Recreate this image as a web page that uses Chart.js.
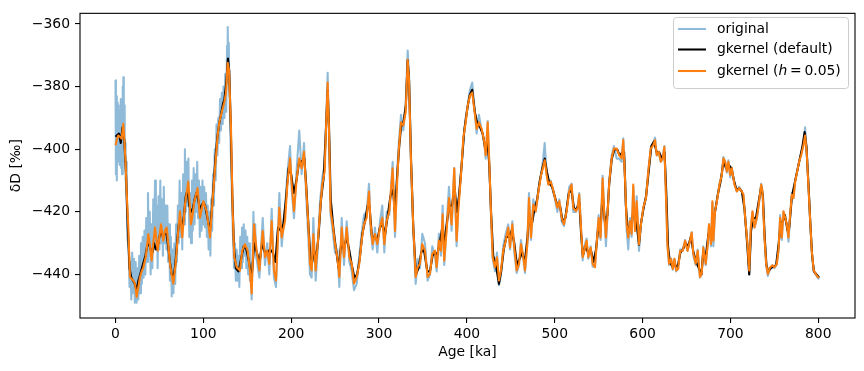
<!DOCTYPE html>
<html>
<head>
<meta charset="utf-8">
<script src="https://cdn.jsdelivr.net/npm/chart.js@4.4.0/dist/chart.umd.min.js"></script>
<style>
  html, body { margin: 0; padding: 0; background: #fff; }
  #wrap { width: 864px; height: 371px; }
</style>
</head>
<body>
<div id="wrap"><canvas id="deltaChart" width="864" height="371"></canvas></div>
<script>
// Age [ka] of the smoothed curves, gkernel (h = 0.05)
const ageKernel = [
  0,1.5,3.2,5,7,8.9,10.3,11.6,12.7,14.6,
  16.5,18.5,20.3,22.2,24.1,26,27.9,29.8,31.7,34.4,
  37.4,39.3,41.2,43,45,48,50,51.8,54.4,56.3,
  58.3,60,62,63.9,65.8,68.5,70.8,73.4,76,79.1,
  82.9,85.9,87.8,89.7,93.5,96.2,99.9,103.8,107.6,110.2,
  113.3,116.3,118.2,120.9,123.9,125.8,127.7,129.2,131.5,133.4,
  135.2,138,141.7,144.3,147.4,150.4,153,155,157.7,160.7,
  163.8,167.6,170.2,172.8,175.1,177.8,180.4,182.7,186.5,189.2,
  193,195.6,198.7,200.6,203.2,206.3,209.2,211.9,214.6,216.8,
  219.5,221.4,223.3,225.2,227.9,230.2,232.8,235.4,238.1,239.9,
  241.5,243,244.9,247.2,249.9,252.5,254.8,257.5,260.1,263.2,
  266.2,268.9,271.5,274.6,277.5,280.2,282.9,285.9,288.6,290.5,
  292.8,295.4,298,301.1,303.7,306,308.7,311.7,315.5,318.2,
  320.8,322.5,325,327.6,330.3,332.6,334.1,336.4,339,341.7,
  344,346.6,349.2,352.3,355.3,358,360.6,363.7,365.6,368.2,
  370.5,372.4,374.2,376.9,379.6,382.6,385.6,388.3,390.2,393.3,
  395.9,398.6,400.9,403.5,406.1,408.4,411.1,413.7,416.8,419.8,
  421.4,423.7,425.5,427.4,429.4,432,434.3,436.5,438.8,441.4,
  444.2,447.1,449.1,451.7,454,456.7,459.3,461.6,464.3,466.1,
  468.8,470.7,473,475.6,478.4,481.4,484.5,486.5,488.6,490.8,
  492.7,495.4,497.7,500.3,503,505.2,507.9,510.5,513.5,516.5,
  519.2,521.1,524.2,526.1,527.9,529.9,531.8,533.6,536.3,538.2,
  540.9,543.2,545.8,547.7,550,552.2,554.5,556.4,558.3,560.3,
  562.1,564.8,567.4,570.5,573.4,576.2,578,580,581.9,583.7,
  585.7,587.6,589.4,591.4,593.3,595.9,598.2,600.8,603.9,606.5,
  609.3,612.2,614.2,616.1,618.4,620.7,622.9,624.8,626.7,628.3,
  630.2,632.5,634.4,636.3,638.2,640.5,642.8,645.8,648.4,651.2,
  654,655.9,657.8,660.5,662.7,665.3,667.3,669.1,671.9,674.2,
  675.6,677.9,679.5,680.6,682.5,685.2,687.5,690.2,692,694,
  695.9,697.7,699.7,701.6,704.6,707.3,710,713,714.8,716.8,
  719.4,721.4,723.2,725.1,727.4,730.1,732.7,735,736.5,738.8,
  740.7,742.6,745.2,747.9,750.1,752.8,754.7,756.6,758.5,760.4,
  762.3,764.2,766.1,768,769.9,771.8,773.7,776,778.2,780.5,
  783.1,785,786.8,788.7,790.6,792.6,794.8,797.1,799.3,801
];
const gkernelH = [
  -398.7,-397,-395.6,-396,-396.6,-391.9,-398,-405,-413.5,-425,
  -440.8,-441.5,-441.9,-443,-447.2,-444,-440.8,-439,-437.7,-434.5,
  -427.1,-431,-435.6,-430,-425,-432.4,-428,-424,-429.2,-426,
  -425,-430,-436.6,-440,-442.9,-436.6,-428.2,-419.8,-428.2,-417.7,
  -410.3,-424,-421,-416.6,-412.4,-421.9,-416.6,-419.8,-428.2,-417.7,
  -406.1,-395.6,-391.4,-388.2,-385,-381.9,-372.4,-374.5,-393.5,-419.8,
  -434.5,-437.7,-438.7,-432.4,-430.3,-432.4,-438.7,-446.1,-424,-432.4,
  -438.7,-426.1,-434.5,-432.4,-436.6,-422.9,-438.7,-441.9,-418.7,-428.2,
  -422.9,-411.3,-402.9,-411.3,-419.8,-409.3,-402.9,-406.1,-400.8,-411.3,
  -424,-436.6,-438.7,-427.1,-438.7,-430.3,-419.8,-411.3,-407.1,-391.4,
  -378.7,-393.5,-419.8,-424,-430.3,-434.5,-440.8,-425,-434.5,-425,
  -434.5,-436.6,-442.9,-440.8,-436.6,-429.2,-424,-421.9,-413.5,-424,
  -430.3,-427.1,-430.3,-425,-421.9,-430.3,-422.9,-419.8,-406.1,-426.1,
  -409.3,-400,-391.4,-392.4,-388.2,-371.4,-377.7,-404,-425,-440.8,
  -437.7,-436.6,-430.3,-432.4,-440.8,-439.8,-433.4,-432.4,-437.7,-429.2,
  -432.4,-420.8,-435.6,-426.1,-415.6,-424,-406.1,-429.2,-419.8,-408.2,
  -396.6,-391.4,-386.1,-382.9,-381.9,-387.2,-393.5,-391.4,-393.5,-397.7,
  -401.9,-391.4,-404,-419.8,-434.5,-437.7,-434.5,-441.9,-438.7,-432.4,
  -429.2,-425,-431.4,-424,-431.4,-438.7,-436.6,-430.3,-434.5,-438.7,
  -430.3,-415.6,-428.2,-417.7,-419.8,-413.5,-408.2,-406,-403.5,-408.2,
  -411.3,-410.3,-412.4,-415.6,-418.7,-416.6,-421.9,-424,-419.8,-413.5,
  -411.3,-418.7,-419.8,-418.7,-414.5,-425,-434.5,-432.4,-429.2,-434.5,
  -431.4,-436.6,-437.7,-430.3,-421.9,-428.2,-409.3,-420.8,-428.2,-419.8,
  -410.3,-402.9,-399.8,-399.8,-401.9,-402.9,-397.1,-409.3,-424,-428.2,
  -422.9,-427.1,-411.3,-426.1,-416.6,-430.3,-424,-418.7,-415.6,-407.1,
  -399.8,-398.7,-397.1,-401.9,-400.8,-404,-402.9,-399.2,-415.6,-430.3,
  -436.6,-435,-438.2,-435,-438.7,-438.2,-432.4,-432.4,-429.2,-432.4,
  -429.2,-426.6,-433.4,-436.6,-432.4,-440.8,-439.8,-431.4,-436.6,-430.3,
  -424,-430.3,-416.6,-429.2,-419.8,-415.6,-411.3,-408.2,-402.9,-404,
  -407.1,-404,-408.2,-406.1,-411.3,-413.5,-412.4,-413.5,-414.5,-421.9,
  -430.3,-438.7,-425,-419.8,-425,-421.9,-416.6,-411.3,-413.5,-428.2,
  -436.6,-439.8,-437.7,-437.1,-437.7,-436.6,-432.4,-421.9,-428.2,-419.8,
  -421.9,-424,-428.2,-420.8,-414.5,-415.6,-410.3,-407.1,-404,-401.9,
  -398.7,-395.6,-400.8,-411.3,-421.9,-432.4,-438.7,-439.8,-440.8,-441
];

// gkernel (default), a bit smoother
const ageDefault = [
  0,2,4,6,8,10,12,14,16,18,20,22,24,26,28,30,32,34,36,38,
  40,42,44,46,48,50,52,54,56,58,60,62,64,66,68,70,72,74,76,78,
  80,82,84,86,88,90,92,94,96,98,100,102,104,106,108,110,112,114,116,118,
  120,122,124,126,128,129.5,131,133,135,137,140,143,146,149,152,155,158,161,164,167,
  170,173,176,179,182,185,188,191,194,197,200,203,206,209,212,215,217,220,222,224,
  226,228,231,234,237,239.5,241.5,243,245,248,251,254,257,260,263,266,269,272,275,278,
  281,284,287,289,292,295,298,301,304,307,310,313,316,318,321,323,325,328,330.5,332.6,
  334.2,336.4,339,342,345,348,351,355,358,361,364,366,369,372,374,377,380,383,386,388.5,
  391,394,397,400,403,406,409,412,415,418,421,423.5,425.5,427.5,430,433,436.5,439,442,445,
  448,451,454,457,460,463,466,469,471,474,477,480,483,486,488.6,491,494,497,500,503,
  506,509,512,516,519,522,525,528,530,532,535,538,541,544,547,550,552,554.5,557,560,
  562,565,568,571,574,577,579,581,583.5,586,588,590,592.5,595.9,598,601,604,607,610,613,
  616,619,622,625,627,629,631,634,637,640,643,646,649,652,655,658,661,664,667,669,
  672,675,678,680,683,686,689,692,695,698,701,704,707,710,713,716,719,721.4,723.5,726,
  729,732,735,737,739,741,743,746,749,752,755,757,759.5,762,765,767,770,773,776,779,
  782,784.5,786.5,789,791,793,795,798,801
];
const gkernelDefault = [
  -396,-395.5,-395,-398,-393,-397,-408,-425,-438,-441,-442,-443,-445,-442,-440,-438,-436,-434,-431,-430,
  -432,-433,-430,-432,-431,-428,-426,-428,-427,-427,-431,-436,-440,-441,-437,-430,-424,-423,-425,-421,
  -415,-413,-418,-420,-419,-416,-414,-416,-419,-418,-417,-418,-421,-424,-425,-418,-410,-402,-396,-392,
  -389,-386,-384,-379,-371,-375,-390,-415,-432,-438,-439,-435,-431,-432,-436,-441,-430,-433,-436,-430,
  -433,-433,-432,-433,-436,-425,-426,-424,-416,-406,-408,-414,-410,-404,-404,-403,-411,-426,-435,-436,
  -432,-436,-428,-416,-409,-394,-381,-392,-416,-425,-432,-438,-430,-432,-428,-432,-437,-441,-440,-435,
  -427,-423,-418,-418,-428,-428,-429,-425,-424,-427,-421,-415,-413,-420,-407,-399,-393,-391,-386,-371.5,
  -378,-403,-425,-440,-438,-433,-432,-439,-439,-434,-433,-434,-430,-425,-430,-424,-418,-418,-412,-420,
  -415,-405,-394,-388,-383,-381,-388,-392,-393,-395,-400,-398,-405,-420,-434,-437,-443,-439,-432,-428,
  -428,-426,-430,-437,-435,-433,-436,-428,-421,-424,-419,-416,-410,-406,-403,-407,-411,-412,-415,-418,
  -418,-423,-422,-414,-413,-419,-419,-417,-427,-434,-431,-433,-432,-436,-432,-424,-426,-414,-423,-421,
  -411,-403,-400,-400,-402,-401,-401,-418,-427,-424,-423,-418,-422,-430.5,-424,-419,-415,-407,-399,-397.5,
  -401,-401,-403,-401,-414,-431,-436,-437.5,-437,-437.5,-433,-432,-430,-431,-428,-433,-436,-438,-440,-433,
  -434,-427,-426,-424,-419,-414,-410,-404,-406,-405,-406,-410,-413,-412.5,-413.5,-419,-430,-440,-426,-422,
  -422,-417,-412,-415,-428,-437,-439,-438,-437.5,-437,-430,-424,-423,-421,-426,-425,-415,-411,-407,-403,
  -399,-394.5,-399,-412,-424,-434,-439,-440,-441
];

// original record: dense noisy part (0-160 ka)
const ageEarly = [
  0,0.5,1,1.5,2,2.5,3,3.5,4,4.5,5,5.5,6,6.5,7,7.5,8,8.5,9,9.5,
  10,10.5,11,11.5,12,12.5,13,13.5,14,
  15,16,17,18,19,20,21,22,23,24,25,26,27,28,29,30,31,32,33,34,
  35,36,37,38,39,40,41,42,43,44,45,46,47,48,49,50,51,52,53,54,
  55,56,57,58,59,60,61,62,63,64,65,66,67,68,69,70,71,72,73,74,
  75,76,77,78,79,80,81,82,83,84,85,86,87,88,89,90,91,92,93,94,
  95,96,97,98,99,100,101,102,103,104,105,106,107,108,109,110,111,112,113,114,
  115,116,117,118,119,120,121,122,123,124,125,126,127,127.5,128,128.5,129,129.5,130,
  131,132,133,134,135,136,137,138,139,140,141,142,143,144,145,146,147,148,149,150,
  151,152,153,154,155,156,157,158,159,160
];
const originalEarly = [
  -378,-408,-383,-410,-385,-400,-386,-404,-388,-405,-390,-402,-384,-406,-388,-408,-380,-396,-377,-400,
  -386,-404,-398,-410,-404,-418,-414,-428,-428,
  -432,-444,-436,-448,-433,-446,-435,-449,-436,-449,-438,-448,-434,-446,-430,-443,-428,-441,-426,-440,
  -422,-436,-414,-434,-420,-440,-424,-438,-416,-432,-410,-430,-418,-438,-415,-432,-410,-430,-416,-434,
  -412,-430,-418,-432,-418,-436,-424,-442,-428,-447,-432,-446,-430,-443,-424,-436,-418,-430,-410,-428,
  -414,-432,-408,-424,-400,-420,-404,-418,-403,-428,-414,-430,-410,-426,-406,-424,-408,-420,-404,-422,
  -410,-428,-412,-426,-410,-424,-412,-425,-414,-428,-418,-432,-420,-434,-416,-426,-408,-418,-400,-410,
  -392,-402,-390,-398,-384,-394,-382,-392,-380,-390,-376,-388,-367,-375,-361,-376,-366,-380,-384,
  -398,-408,-420,-430,-438,-430,-442,-432,-442,-434,-444,-428,-438,-425,-436,-424,-434,-426,-438,-428,
  -440,-430,-442,-436,-448,-434,-420,-432,-424,-434
];
// original record after 160 ka, sampled at the same ages as ageKernel from 163.8 ka on
const originalLate = [
  -441,-422,-437,-430,-440,-419,-441,-444,-414,-431,
  -419,-408,-399,-413,-422,-406,-394,-408,-398,-413,
  -428,-440,-441,-422,-442,-432,-417,-409,-405,-390,
  -375.6,-395,-421,-426,-433,-432,-444,-422,-437,-423,
  -436,-439,-445,-443,-434,-427,-421,-420,-411,-426,
  -432,-425,-433,-423,-418,-433,-420,-421,-404,-428,
  -406,-398,-389,-394,-386,-368.5,-376,-405,-426,-443,
  -435,-438,-427,-430,-442,-440,-431,-434,-439,-427,
  -434,-418,-437,-424,-412,-426,-406,-431,-418,-408,
  -398,-390,-386,-381,-378.7,-386,-395,-389,-394,-398,
  -403,-391,-405,-421,-435,-439,-433,-443.5,-440,-431,
  -427,-424,-432,-423,-433,-439.5,-437,-429,-435,-439.5,
  -430,-414,-429,-416,-420,-413,-408,-404,-398,-408,
  -411,-410,-413,-416,-420,-416,-423,-424.5,-420,-412,
  -411,-420,-420,-418,-414,-425,-435.5,-431,-428.5,-435,
  -431,-437.5,-437.5,-430,-421,-429,-408.5,-421,-431,-420,
  -410,-402,-399,-403,-403,-404,-396.5,-409,-426,-432,
  -422,-428,-412,-426,-415,-432.5,-424,-419,-415,-407,
  -399.5,-398,-396.3,-402,-401,-404,-403,-399,-415,-431,
  -437,-435,-438.5,-435,-439,-438,-432,-432,-429,-432.5,
  -429,-426.5,-434,-437,-432,-441,-440,-431,-437,-430,
  -424,-431,-417,-431,-420,-415,-411,-408,-402.5,-404,
  -407.5,-403.5,-409,-406,-411,-413.5,-412,-413.5,-414.5,-422,
  -430,-440,-425,-420,-425,-422,-417,-411,-413.5,-428,
  -437,-440.5,-438,-437,-438,-436.5,-432.5,-421,-429,-420,
  -422,-424,-429.5,-421,-414,-415.5,-410,-407,-404,-401.5,
  -398.5,-393,-401,-411,-422,-432.5,-439,-440,-441,-441.5
];

const xTicks = [0, 100, 200, 300, 400, 500, 600, 700, 800];
const yTicks = [-440, -420, -400, -380, -360];

const FONT = 'DejaVu Sans';
const FS = 13.9;

function toPoints(xs, ys) {
  const n = Math.min(xs.length, ys.length);
  const pts = [];
  for (let i = 0; i < n; i++) pts.push({ x: xs[i], y: ys[i] });
  return pts;
}

const ageOriginal = ageEarly.concat(ageKernel.slice(70));
const original = originalEarly.concat(originalLate);

// full box round the axes, like matplotlib spines
const frameBox = {
  id: 'frameBox',
  afterDatasetsDraw(chart) {
    const a = chart.chartArea;
    const ctx = chart.ctx;
    ctx.save();
    ctx.strokeStyle = '#000';
    ctx.lineWidth = 1.1;
    ctx.strokeRect(a.left, a.top, a.right - a.left, a.bottom - a.top);
    ctx.restore();
  }
};

// matplotlib style legend in the upper right corner
const legendBox = {
  id: 'legendBox',
  afterDraw(chart) {
    const ctx = chart.ctx;
    ctx.save();
    ctx.beginPath();
    ctx.roundRect(673.5, 17.5, 175, 71, 3);
    ctx.fillStyle = 'rgba(255,255,255,0.8)';
    ctx.fill();
    ctx.strokeStyle = '#cccccc';
    ctx.lineWidth = 1;
    ctx.stroke();

    const rows = [
      { y: 29, color: 'rgba(31,119,180,0.5)', parts: [['original', '']] },
      { y: 49.5, color: '#000000', parts: [['gkernel (default)', '']] },
      { y: 71, color: '#ff7f0e', parts: [['gkernel (', ''], ['h', 'italic '], ['\u2009=\u20090.05', ''], [')', '']] }
    ];
    ctx.textBaseline = 'middle';
    ctx.fillStyle = '#000';
    rows.forEach(r => {
      ctx.beginPath();
      ctx.moveTo(678, r.y);
      ctx.lineTo(706, r.y);
      ctx.strokeStyle = r.color;
      ctx.lineWidth = 2.08;
      ctx.stroke();
      let x = 717;
      r.parts.forEach(p => {
        ctx.font = p[1] + FS + 'px "' + FONT + '"';
        ctx.fillText(p[0], x, r.y);
        x += ctx.measureText(p[0]).width;
      });
    });
    ctx.restore();
  }
};

const ctx = document.getElementById('deltaChart').getContext('2d');
const chart = new Chart(ctx, {
  type: 'line',
  data: {
    datasets: [
      {
        label: 'original',
        data: toPoints(ageOriginal, original),
        borderColor: 'rgba(31,119,180,0.5)',
        borderWidth: 2.08,
        order: 2
      },
      {
        label: 'gkernel (default)',
        data: toPoints(ageDefault, gkernelDefault),
        borderColor: '#000000',
        borderWidth: 2.08,
        order: 1
      },
      {
        label: 'gkernel (h = 0.05)',
        data: toPoints(ageKernel, gkernelH),
        borderColor: '#ff7f0e',
        borderWidth: 2.08,
        order: 0
      }
    ]
  },
  options: {
    responsive: false,
    animation: false,
    events: [],
    layout: { padding: { left: 0, top: 10, right: 9, bottom: 0 } },
    elements: {
      point: { radius: 0 },
      line: { tension: 0, fill: false, borderJoinStyle: 'round', borderCapStyle: 'butt' }
    },
    plugins: { legend: { display: false }, tooltip: { enabled: false } },
    scales: {
      x: {
        type: 'linear',
        min: -40.4,
        max: 841.8,
        afterBuildTicks: s => { s.ticks = xTicks.map(v => ({ value: v })); },
        afterFit: s => { s.height = 53; },
        grid: { display: true, drawOnChartArea: false, drawTicks: true, tickLength: 5, lineWidth: 1.1, color: '#000' },
        border: { display: false },
        ticks: { color: '#000', font: { family: FONT, size: FS }, padding: 3, maxRotation: 0 },
        title: { display: true, text: 'Age [ka]', color: '#000', font: { family: FONT, size: FS }, padding: { top: 0, bottom: 10 } }
      },
      y: {
        type: 'linear',
        min: -453.9,
        max: -356.6,
        afterBuildTicks: s => { s.ticks = yTicks.map(v => ({ value: v })); },
        afterFit: s => { s.width = 80; },
        grid: { display: true, drawOnChartArea: false, drawTicks: true, tickLength: 5, lineWidth: 1.1, color: '#000' },
        border: { display: false },
        ticks: {
          color: '#000',
          font: { family: FONT, size: FS },
          padding: 5,
          callback: v => '\u2212' + Math.abs(v)
        },
        title: { display: true, text: 'δD [‰]', color: '#000', font: { family: FONT, size: FS }, padding: { top: 8, bottom: 0 } }
      }
    }
  },
  plugins: [frameBox, legendBox]
});
</script>
</body>
</html>
